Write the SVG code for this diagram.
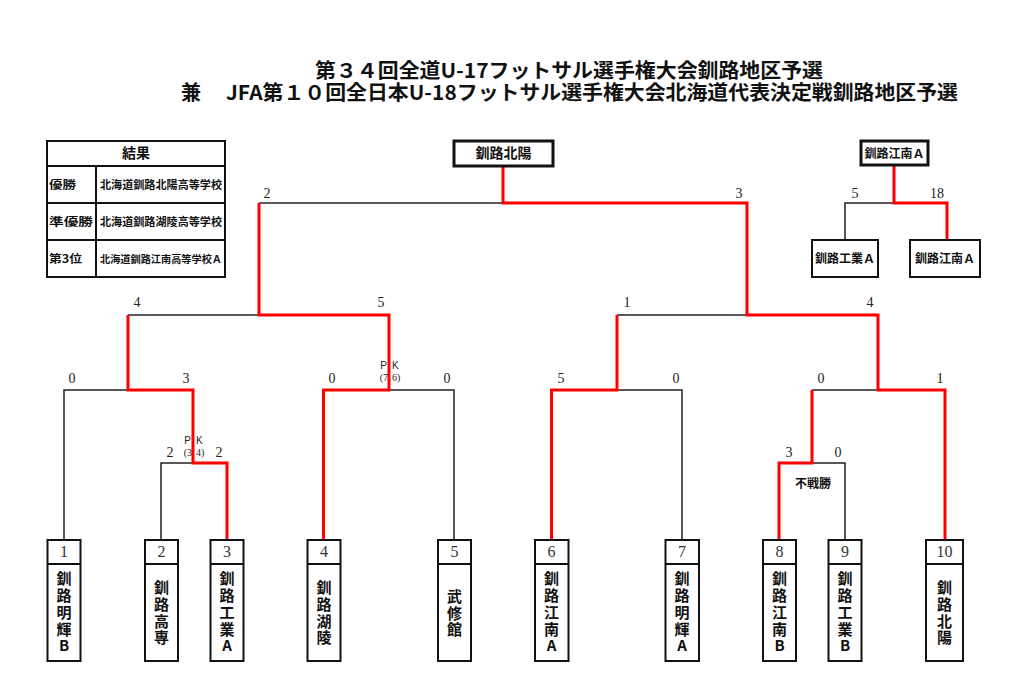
<svg xmlns="http://www.w3.org/2000/svg" width="1024" height="695" viewBox="0 0 1024 695">
<style>
.bg{fill:#fff}
.jp{font-family:"Noto Sans CJK JP","Noto Sans",sans-serif;font-weight:bold;fill:#111}
.num{font-family:"Liberation Serif",serif;fill:#222;font-size:14px;text-anchor:middle}
.bnum{font-family:"Liberation Serif",serif;fill:#333;font-size:16px;text-anchor:middle}
.pk{font-family:"Liberation Sans",sans-serif;font-size:10px;fill:#222}
.pks{font-family:"Liberation Serif",serif;font-size:10px;fill:#222}
.box{fill:#fff;stroke:#111;stroke-width:2}
.tbox{fill:#fff;stroke:#111;stroke-width:3}
.blk{fill:none;stroke:#222;stroke-width:1.5}
.red{fill:none;stroke:#ff0000;stroke-width:3;stroke-linejoin:miter}
.v{font-size:15px;text-anchor:middle}
.mid{text-anchor:middle}
</style>
<rect class="bg" x="0" y="0" width="1024" height="695"/>

<g id="title">
<text class="jp" x="315" y="78" font-size="20" textLength="508" lengthAdjust="spacingAndGlyphs">第３４回全道U-17フットサル選手権大会釧路地区予選</text>
<text class="jp" x="181" y="100" font-size="20">兼</text>
<text class="jp" x="226" y="100" font-size="20" textLength="732" lengthAdjust="spacingAndGlyphs">JFA第１０回全日本U-18フットサル選手権大会北海道代表決定戦釧路地区予選</text>
</g>

<g id="results">
<rect x="47" y="141" width="178" height="136" fill="#fff" stroke="#111" stroke-width="2"/>
<line x1="47" y1="166" x2="225" y2="166" stroke="#111" stroke-width="2"/>
<line x1="47" y1="203" x2="225" y2="203" stroke="#111" stroke-width="2"/>
<line x1="47" y1="240" x2="225" y2="240" stroke="#111" stroke-width="2"/>
<line x1="96" y1="166" x2="96" y2="277" stroke="#111" stroke-width="2"/>
<text class="jp mid" x="136" y="158" font-size="14">結果</text>
<text class="jp" x="49" y="189" font-size="11" textLength="27" lengthAdjust="spacingAndGlyphs">優勝</text>
<text class="jp" x="49" y="226" font-size="11" textLength="44" lengthAdjust="spacingAndGlyphs">準優勝</text>
<text class="jp" x="49" y="263" font-size="11" textLength="33" lengthAdjust="spacingAndGlyphs">第3位</text>
<text class="jp" x="100" y="189" font-size="11" textLength="122" lengthAdjust="spacingAndGlyphs">北海道釧路北陽高等学校</text>
<text class="jp" x="100" y="226" font-size="11" textLength="122" lengthAdjust="spacingAndGlyphs">北海道釧路湖陵高等学校</text>
<text class="jp" x="100" y="263" font-size="10" textLength="122" lengthAdjust="spacingAndGlyphs">北海道釧路江南高等学校Ａ</text>
</g>

<g id="connectors">
<path class="blk" d="M259,203 H503"/>
<path class="blk" d="M845,239 V203 H894"/>
<path class="blk" d="M128,315 H259"/>
<path class="blk" d="M617,315 H747"/>
<path class="blk" d="M64,540 V390 H128"/>
<path class="blk" d="M389,390 H454 V540"/>
<path class="blk" d="M617,390 H682 V540"/>
<path class="blk" d="M812,390 H878"/>
<path class="blk" d="M161,540 V463 H193"/>
<path class="blk" d="M812,463 H845 V540"/>
<path class="red" d="M503,167 V203 H747 V315 H878 V390 H945 V540"/>
<path class="red" d="M259,203 V315 H389 V390 H323.5 V540"/>
<path class="red" d="M128,315 V390 H193 V463 H227 V540"/>
<path class="red" d="M617,315 V390 H551.5 V540"/>
<path class="red" d="M812,390 V463 H779 V540"/>
<path class="red" d="M894,166 V203 H947 V239"/>
</g>

<g id="scores">
<text class="num" x="267" y="198">2</text>
<text class="num" x="739" y="198">3</text>
<text class="num" x="855" y="198">5</text>
<text class="num" x="937" y="198">18</text>
<text class="num" x="137" y="307">4</text>
<text class="num" x="381" y="307">5</text>
<text class="num" x="627" y="307">1</text>
<text class="num" x="870" y="307">4</text>
<text class="num" x="72" y="383">0</text>
<text class="num" x="186" y="383">3</text>
<text class="num" x="332" y="383">0</text>
<text class="num" x="447" y="383">0</text>
<text class="num" x="561" y="383">5</text>
<text class="num" x="676" y="383">0</text>
<text class="num" x="821" y="383">0</text>
<text class="num" x="940" y="383">1</text>
<text class="num" x="170" y="457">2</text>
<text class="num" x="219" y="457">2</text>
<text class="num" x="789" y="457">3</text>
<text class="num" x="838" y="457">0</text>
</g>

<g id="pk1">
<text class="pk" x="191" y="444" text-anchor="end">P</text>
<text class="pk" x="196" y="444">K</text>
<text class="pks" x="192" y="456" text-anchor="end">(3</text>
<text class="pks" x="196" y="456">4)</text>
</g>
<g id="pk2">
<text class="pk" x="387" y="369" text-anchor="end">P</text>
<text class="pk" x="392" y="369">K</text>
<text class="pks" x="388" y="381" text-anchor="end">(7</text>
<text class="pks" x="392" y="381">6)</text>
</g>
<g id="fusen">
<text class="jp mid" x="813" y="488" font-size="12">不戦勝</text>
</g>

<g id="top-winner">
<rect class="tbox" x="454" y="141" width="99" height="25"/>
<text class="jp mid" x="503.5" y="158" font-size="14">釧路北陽</text>
</g>
<g id="third-winner">
<rect class="tbox" x="861" y="141" width="67" height="24"/>
<text class="jp mid" x="894.5" y="157.5" font-size="12">釧路江南Ａ</text>
</g>
<g id="third-a">
<rect class="box" x="812" y="240" width="66" height="37"/>
<text class="jp mid" x="845" y="263" font-size="12">釧路工業Ａ</text>
</g>
<g id="third-b">
<rect class="box" x="910" y="240" width="70" height="37"/>
<text class="jp mid" x="945" y="263" font-size="12">釧路江南Ａ</text>
</g>

<g id="team1">
<rect class="box" x="47.5" y="540" width="33" height="121"/><line x1="47.5" y1="564" x2="80.5" y2="564" stroke="#111" stroke-width="2"/>
<text class="bnum" x="64" y="557">1</text>
<text class="jp v" x="64"><tspan x="64" y="584">釧</tspan><tspan x="64" y="601">路</tspan><tspan x="64" y="618">明</tspan><tspan x="64" y="635">輝</tspan><tspan x="64" y="651">B</tspan></text>
</g>
<g id="team2">
<rect class="box" x="145" y="540" width="33" height="121"/><line x1="145" y1="564" x2="178" y2="564" stroke="#111" stroke-width="2"/>
<text class="bnum" x="161.5" y="557">2</text>
<text class="jp v"><tspan x="161.5" y="593">釧</tspan><tspan x="161.5" y="610">路</tspan><tspan x="161.5" y="627">高</tspan><tspan x="161.5" y="643">専</tspan></text>
</g>
<g id="team3">
<rect class="box" x="210.5" y="540" width="33" height="121"/><line x1="210.5" y1="564" x2="243.5" y2="564" stroke="#111" stroke-width="2"/>
<text class="bnum" x="227" y="557">3</text>
<text class="jp v"><tspan x="227" y="584">釧</tspan><tspan x="227" y="601">路</tspan><tspan x="227" y="618">工</tspan><tspan x="227" y="635">業</tspan><tspan x="227" y="651">A</tspan></text>
</g>
<g id="team4">
<rect class="box" x="307.5" y="540" width="33" height="121"/><line x1="307.5" y1="564" x2="340.5" y2="564" stroke="#111" stroke-width="2"/>
<text class="bnum" x="324" y="557">4</text>
<text class="jp v"><tspan x="324" y="593">釧</tspan><tspan x="324" y="610">路</tspan><tspan x="324" y="627">湖</tspan><tspan x="324" y="643">陵</tspan></text>
</g>
<g id="team5">
<rect class="box" x="438" y="540" width="33" height="121"/><line x1="438" y1="564" x2="471" y2="564" stroke="#111" stroke-width="2"/>
<text class="bnum" x="454.5" y="557">5</text>
<text class="jp v"><tspan x="454.5" y="602">武</tspan><tspan x="454.5" y="619">修</tspan><tspan x="454.5" y="635">館</tspan></text>
</g>
<g id="team6">
<rect class="box" x="535" y="540" width="33.5" height="121"/><line x1="535" y1="564" x2="568.5" y2="564" stroke="#111" stroke-width="2"/>
<text class="bnum" x="551.5" y="557">6</text>
<text class="jp v"><tspan x="551.5" y="584">釧</tspan><tspan x="551.5" y="601">路</tspan><tspan x="551.5" y="618">江</tspan><tspan x="551.5" y="635">南</tspan><tspan x="551.5" y="651">A</tspan></text>
</g>
<g id="team7">
<rect class="box" x="665.5" y="540" width="33.5" height="121"/><line x1="665.5" y1="564" x2="699" y2="564" stroke="#111" stroke-width="2"/>
<text class="bnum" x="682" y="557">7</text>
<text class="jp v"><tspan x="682" y="584">釧</tspan><tspan x="682" y="601">路</tspan><tspan x="682" y="618">明</tspan><tspan x="682" y="635">輝</tspan><tspan x="682" y="651">A</tspan></text>
</g>
<g id="team8">
<rect class="box" x="763" y="540" width="33" height="121"/><line x1="763" y1="564" x2="796" y2="564" stroke="#111" stroke-width="2"/>
<text class="bnum" x="779.5" y="557">8</text>
<text class="jp v"><tspan x="779.5" y="584">釧</tspan><tspan x="779.5" y="601">路</tspan><tspan x="779.5" y="618">江</tspan><tspan x="779.5" y="635">南</tspan><tspan x="779.5" y="651">B</tspan></text>
</g>
<g id="team9">
<rect class="box" x="828.5" y="540" width="33" height="121"/><line x1="828.5" y1="564" x2="861.5" y2="564" stroke="#111" stroke-width="2"/>
<text class="bnum" x="845" y="557">9</text>
<text class="jp v"><tspan x="845" y="584">釧</tspan><tspan x="845" y="601">路</tspan><tspan x="845" y="618">工</tspan><tspan x="845" y="635">業</tspan><tspan x="845" y="651">B</tspan></text>
</g>
<g id="team10">
<rect class="box" x="926" y="540" width="37" height="121"/><line x1="926" y1="564" x2="963" y2="564" stroke="#111" stroke-width="2"/>
<text class="bnum" x="944.5" y="557">10</text>
<text class="jp v"><tspan x="944.5" y="593">釧</tspan><tspan x="944.5" y="610">路</tspan><tspan x="944.5" y="627">北</tspan><tspan x="944.5" y="643">陽</tspan></text>
</g>
</svg>
